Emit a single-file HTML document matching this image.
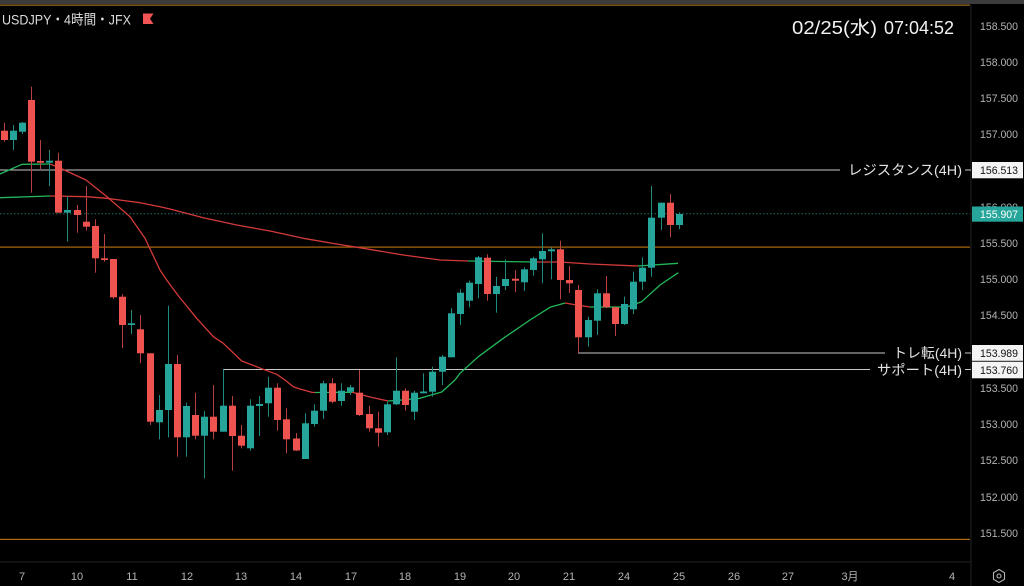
<!DOCTYPE html>
<html><head><meta charset="utf-8"><style>
html,body{margin:0;padding:0;background:#000;width:1024px;height:586px;overflow:hidden}
svg{display:block}
.r{fill:#ef5350}.g{fill:#26a69a}
.rw{fill:#b8403e}.gw{fill:#1f8a80}
text{font-family:"Liberation Sans","Noto Sans CJK JP",sans-serif}
.ax{font-size:11px;fill:#b4b4b4}
.bx{font-size:11px;fill:#111}
.jl{font-size:14px;fill:#e2e2e2}
</style></head><body>
<svg width="1024" height="586" viewBox="0 0 1024 586" xmlns="http://www.w3.org/2000/svg">
<rect x="0" y="0" width="1024" height="586" fill="#000"/>
<rect x="0" y="0" width="1024" height="4" fill="#3c3c3c"/>
<rect x="0" y="4.5" width="970" height="1.2" fill="#a8742e"/>
<!-- axis separators -->
<rect x="970.5" y="5" width="1" height="581" fill="#222"/>
<rect x="0" y="561.5" width="971" height="1" fill="#222"/>

<!-- horizontal lines -->
<rect x="0" y="246.5" width="970" height="1.2" fill="#b06a10"/>
<rect x="0" y="538.8" width="970" height="1.2" fill="#b06a10"/>
<line x1="0" y1="213.8" x2="970" y2="213.8" stroke="#1f6f68" stroke-width="1" stroke-dasharray="1.5 2"/>
<rect x="0" y="169.5" width="840" height="1" fill="#c8c8c8"/>
<rect x="965" y="169.5" width="6" height="1" fill="#c8c8c8"/>
<rect x="223" y="369" width="647" height="1" fill="#c8c8c8"/>
<rect x="965" y="369" width="6" height="1" fill="#c8c8c8"/>
<rect x="578" y="352.5" width="307" height="1" fill="#c8c8c8"/>
<rect x="965" y="352.5" width="6" height="1" fill="#c8c8c8"/>

<!-- MAs -->
<g fill="none" stroke-width="1.3" stroke-linejoin="round">
<polyline stroke="#22b85a" points="0,197.7 50,196"/>
<polyline stroke="#d43a3a" points="50,196 86.7,196.7 106.7,198.3 140,202.7 160,206.7 170,209 203.3,217.7 236.7,225 270,231 303.3,238.3 336.7,244 363.3,248.3 403.3,255 440,260 468,261"/>
<polyline stroke="#22b85a" points="468,261 535,262"/>
<polyline stroke="#d43a3a" points="535,262 560,262 590,264 638,266"/>
<polyline stroke="#22b85a" points="638,266 678,263.3"/>
<polyline stroke="#22b85a" points="0,174 22,164.3 50,164"/>
<polyline stroke="#d43a3a" points="50,164 60,168 86,180 107,196.7 130,216.7 145,238.3 160,270 166.7,280 177.7,295 196.7,318.3 213.3,336.7 223.3,343.3 241.7,361 263.3,369.3 276.7,374.3 285,380 293.3,386.7 300,389 311.7,392.3 315,392.5"/>
<polyline stroke="#22b85a" points="315,392.5 352,392.3"/>
<polyline stroke="#d43a3a" points="352,392.3 370,397 388,401"/>
<polyline stroke="#22b85a" points="388,401 401.7,400 420,398.3 425,396.7 441.7,392 455,380 460,373.3 478.3,356.7 503.3,338.3 530,320 550,307.3 565,303"/>
<polyline stroke="#d43a3a" points="565,303 576.7,305 590,307"/>
<polyline stroke="#22b85a" points="590,307 626.7,307 641.7,301.7 660,285 678.3,272.7"/>
</g>

<!-- candles -->
<rect class="rw" x="4" y="122.7" width="1" height="19"/><rect class="r" x="1" y="130.7" width="7" height="9.3"/>
<rect class="gw" x="13" y="125" width="1" height="25"/><rect class="g" x="10" y="130.7" width="7" height="9.3"/>
<rect class="gw" x="22" y="122" width="1" height="12"/><rect class="g" x="19" y="122.7" width="7" height="9"/>
<rect class="rw" x="31" y="86.7" width="1" height="106"/><rect class="r" x="28" y="100" width="7" height="61.7"/>
<rect class="rw" x="40" y="140" width="1" height="29"/><rect class="r" x="37" y="161" width="7" height="1.7"/>
<rect class="gw" x="49" y="150" width="1" height="36"/><rect class="g" x="46" y="160.7" width="7" height="2"/>
<rect class="rw" x="58" y="152.7" width="1" height="60"/><rect class="r" x="55" y="160.7" width="7" height="52"/>
<rect class="gw" x="67" y="196" width="1" height="45.7"/><rect class="g" x="64" y="210" width="7" height="2.7"/>
<rect class="rw" x="77" y="205" width="1" height="27.7"/><rect class="r" x="74" y="210" width="7" height="5"/>
<rect class="rw" x="86" y="186" width="1" height="44.7"/><rect class="r" x="83" y="221.7" width="7" height="5"/>
<rect class="rw" x="95" y="219.3" width="1" height="53.4"/><rect class="r" x="92" y="226" width="7" height="32.3"/>
<rect class="rw" x="104" y="234" width="1" height="27.7"/><rect class="r" x="101" y="258.3" width="7" height="1.7"/>
<rect class="rw" x="113" y="259" width="1" height="40"/><rect class="r" x="110" y="259" width="7" height="38.3"/>
<rect class="rw" x="122" y="294" width="1" height="54"/><rect class="r" x="119" y="296.7" width="7" height="28.3"/>
<rect class="gw" x="131" y="310" width="1" height="24"/><rect class="g" x="128" y="323.3" width="7" height="1.7"/>
<rect class="rw" x="140" y="315" width="1" height="48.3"/><rect class="r" x="137" y="329.3" width="7" height="24"/>
<rect class="rw" x="150" y="353.3" width="1" height="71.7"/><rect class="r" x="147" y="353.3" width="7" height="68.4"/>
<rect class="gw" x="159" y="395" width="1" height="44.3"/><rect class="g" x="156" y="410" width="7" height="12.3"/>
<rect class="gw" x="168" y="305.7" width="1" height="131.6"/><rect class="g" x="165" y="364" width="7" height="46"/>
<rect class="rw" x="177" y="355" width="1" height="101.7"/><rect class="r" x="174" y="364" width="7" height="73.3"/>
<rect class="gw" x="186" y="402.7" width="1" height="54"/><rect class="g" x="183" y="406" width="7" height="31.3"/>
<rect class="rw" x="195" y="392.7" width="1" height="46.6"/><rect class="r" x="192" y="415" width="7" height="20.7"/>
<rect class="gw" x="204" y="411" width="1" height="67.3"/><rect class="g" x="201" y="416.7" width="7" height="19"/>
<rect class="rw" x="213" y="385" width="1" height="54.3"/><rect class="r" x="210" y="416.7" width="7" height="15"/>
<rect class="gw" x="223" y="369.3" width="1" height="62.4"/><rect class="g" x="220" y="405.7" width="7" height="26"/>
<rect class="rw" x="232" y="396" width="1" height="74.7"/><rect class="r" x="229" y="405.7" width="7" height="30.3"/>
<rect class="rw" x="241" y="425" width="1" height="23.3"/><rect class="r" x="238" y="435.7" width="7" height="10"/>
<rect class="gw" x="250" y="399.3" width="1" height="51.4"/><rect class="g" x="247" y="405.7" width="7" height="42.6"/>
<rect class="gw" x="259" y="396" width="1" height="40"/><rect class="g" x="256" y="404" width="7" height="2"/>
<rect class="gw" x="268" y="376.7" width="1" height="40"/><rect class="g" x="265" y="387.7" width="7" height="15.6"/>
<rect class="rw" x="277" y="383.3" width="1" height="47.4"/><rect class="r" x="274" y="387.7" width="7" height="32.3"/>
<rect class="rw" x="286" y="408.3" width="1" height="45"/><rect class="r" x="283" y="419.3" width="7" height="20"/>
<rect class="rw" x="296" y="433" width="1" height="18"/><rect class="r" x="293" y="438.5" width="7" height="12"/>
<rect class="gw" x="305" y="413.3" width="1" height="45.7"/><rect class="g" x="302" y="423.3" width="7" height="35.7"/>
<rect class="gw" x="314" y="404.3" width="1" height="22.4"/><rect class="g" x="311" y="410.7" width="7" height="13.3"/>
<rect class="gw" x="323" y="380.7" width="1" height="38.3"/><rect class="g" x="320" y="383.3" width="7" height="27.4"/>
<rect class="rw" x="332" y="378.3" width="1" height="25"/><rect class="r" x="329" y="383.3" width="7" height="18.4"/>
<rect class="gw" x="341" y="383.3" width="1" height="22.4"/><rect class="g" x="338" y="390.7" width="7" height="10.3"/>
<rect class="gw" x="350" y="385" width="1" height="10"/><rect class="g" x="347" y="387.3" width="7" height="4.4"/>
<rect class="rw" x="359" y="370" width="1" height="46"/><rect class="r" x="356" y="392.7" width="7" height="22.3"/>
<rect class="rw" x="369" y="405.7" width="1" height="26"/><rect class="r" x="366" y="414" width="7" height="14.3"/>
<rect class="rw" x="378" y="411.7" width="1" height="35"/><rect class="r" x="375" y="428.3" width="7" height="4.4"/>
<rect class="gw" x="387" y="401.7" width="1" height="33.3"/><rect class="g" x="384" y="404.3" width="7" height="28"/>
<rect class="gw" x="396" y="357.3" width="1" height="47.7"/><rect class="g" x="393" y="390.7" width="7" height="13.6"/>
<rect class="rw" x="405" y="388.3" width="1" height="22.4"/><rect class="r" x="402" y="390.7" width="7" height="14.3"/>
<rect class="gw" x="414" y="390.7" width="1" height="29.3"/><rect class="g" x="411" y="392.7" width="7" height="19"/>
<rect class="gw" x="423" y="373.3" width="1" height="20"/><rect class="g" x="420" y="391.5" width="7" height="1.8"/>
<rect class="gw" x="432" y="366.7" width="1" height="30"/><rect class="g" x="429" y="371.7" width="7" height="20"/>
<rect class="gw" x="442" y="355" width="1" height="30"/><rect class="g" x="439" y="356.7" width="7" height="15"/>
<rect class="gw" x="451" y="308.3" width="1" height="49"/><rect class="g" x="448" y="313.3" width="7" height="44"/>
<rect class="gw" x="460" y="289.3" width="1" height="35.7"/><rect class="g" x="457" y="292.7" width="7" height="21.3"/>
<rect class="gw" x="469" y="280.7" width="1" height="26.6"/><rect class="g" x="466" y="282.7" width="7" height="18"/>
<rect class="gw" x="478" y="256" width="1" height="42.3"/><rect class="g" x="475" y="257.3" width="7" height="26.7"/>
<rect class="rw" x="487" y="254.3" width="1" height="46.4"/><rect class="r" x="484" y="257.7" width="7" height="36.3"/>
<rect class="gw" x="496" y="276.7" width="1" height="36"/><rect class="g" x="493" y="286" width="7" height="8"/>
<rect class="gw" x="505" y="259.3" width="1" height="30.7"/><rect class="g" x="502" y="279" width="7" height="7"/>
<rect class="rw" x="515" y="270" width="1" height="22.3"/><rect class="r" x="512" y="278.7" width="7" height="2"/>
<rect class="gw" x="524" y="267.3" width="1" height="23.7"/><rect class="g" x="521" y="269.3" width="7" height="13"/>
<rect class="gw" x="533" y="256.7" width="1" height="19"/><rect class="g" x="530" y="258.3" width="7" height="11.7"/>
<rect class="gw" x="542" y="233.3" width="1" height="50"/><rect class="g" x="539" y="251" width="7" height="8.3"/>
<rect class="gw" x="551" y="247.3" width="1" height="32"/><rect class="g" x="548" y="249.3" width="7" height="2"/>
<rect class="rw" x="560" y="240.7" width="1" height="58.6"/><rect class="r" x="557" y="249.3" width="7" height="30.7"/>
<rect class="rw" x="569" y="266" width="1" height="27"/><rect class="r" x="566" y="280" width="7" height="3.3"/>
<rect class="rw" x="578" y="285" width="1" height="68"/><rect class="r" x="575" y="290" width="7" height="47.3"/>
<rect class="gw" x="588" y="316.7" width="1" height="30"/><rect class="g" x="585" y="320" width="7" height="17.3"/>
<rect class="gw" x="597" y="289.3" width="1" height="45.7"/><rect class="g" x="594" y="293.3" width="7" height="27.4"/>
<rect class="rw" x="606" y="276" width="1" height="32.3"/><rect class="r" x="603" y="293.3" width="7" height="14"/>
<rect class="rw" x="615" y="306.7" width="1" height="29.3"/><rect class="r" x="612" y="307.3" width="7" height="16.7"/>
<rect class="gw" x="624" y="296.7" width="1" height="28.3"/><rect class="g" x="621" y="304" width="7" height="20"/>
<rect class="gw" x="633" y="271.7" width="1" height="42.3"/><rect class="g" x="630" y="281.7" width="7" height="27.6"/>
<rect class="gw" x="642" y="257.3" width="1" height="32.7"/><rect class="g" x="639" y="267.7" width="7" height="14"/>
<rect class="gw" x="651" y="186" width="1" height="90.7"/><rect class="g" x="648" y="217.7" width="7" height="50"/>
<rect class="gw" x="661" y="202.7" width="1" height="27.3"/><rect class="g" x="658" y="202.7" width="7" height="15"/>
<rect class="rw" x="670" y="194" width="1" height="43.3"/><rect class="r" x="667" y="202.7" width="7" height="22.3"/>
<rect class="gw" x="679" y="212.3" width="1" height="17"/><rect class="g" x="676" y="214" width="7" height="11"/>

<!-- line labels -->
<text class="jl" x="848" y="175" textLength="114" lengthAdjust="spacingAndGlyphs">レジスタンス(4H)</text>
<text class="jl" x="893" y="358" textLength="69" lengthAdjust="spacingAndGlyphs">トレ転(4H)</text>
<text class="jl" x="877" y="375" textLength="85" lengthAdjust="spacingAndGlyphs">サポート(4H)</text>

<!-- header -->
<text x="2" y="24.5" font-size="14" fill="#dcdcdc" textLength="129" lengthAdjust="spacingAndGlyphs">USDJPY・4時間・JFX</text>
<path d="M143,13.5 H153.5 L150,18.7 L153.5,24 H143 Z" fill="#f05454"/>
<text x="792" y="34" font-size="18" fill="#f2f2f2" textLength="85" lengthAdjust="spacingAndGlyphs">02/25(水)</text>
<text x="884" y="34" font-size="18" fill="#f2f2f2" textLength="70" lengthAdjust="spacingAndGlyphs">07:04:52</text>

<!-- right axis -->
<g class="ax">
<text x="980" y="30" textLength="38" lengthAdjust="spacingAndGlyphs">158.500</text>
<text x="980" y="66" textLength="38" lengthAdjust="spacingAndGlyphs">158.000</text>
<text x="980" y="102" textLength="38" lengthAdjust="spacingAndGlyphs">157.500</text>
<text x="980" y="138" textLength="38" lengthAdjust="spacingAndGlyphs">157.000</text>
<text x="980" y="211" textLength="38" lengthAdjust="spacingAndGlyphs">156.000</text>
<text x="980" y="247" textLength="38" lengthAdjust="spacingAndGlyphs">155.500</text>
<text x="980" y="283" textLength="38" lengthAdjust="spacingAndGlyphs">155.000</text>
<text x="980" y="319" textLength="38" lengthAdjust="spacingAndGlyphs">154.500</text>
<text x="980" y="392" textLength="38" lengthAdjust="spacingAndGlyphs">153.500</text>
<text x="980" y="428" textLength="38" lengthAdjust="spacingAndGlyphs">153.000</text>
<text x="980" y="464" textLength="38" lengthAdjust="spacingAndGlyphs">152.500</text>
<text x="980" y="501" textLength="38" lengthAdjust="spacingAndGlyphs">152.000</text>
<text x="980" y="537" textLength="38" lengthAdjust="spacingAndGlyphs">151.500</text>
</g>
<rect x="972" y="162" width="51" height="16.3" fill="#f4f4f4"/>
<text class="bx" x="980" y="174" textLength="38" lengthAdjust="spacingAndGlyphs">156.513</text>
<rect x="972" y="206.5" width="51" height="15.2" fill="#26a69a"/>
<text class="bx" x="980" y="218" fill="#fff" style="fill:#fff" textLength="38" lengthAdjust="spacingAndGlyphs">155.907</text>
<rect x="972" y="345" width="51" height="15.8" fill="#f4f4f4"/>
<text class="bx" x="980" y="357" textLength="38" lengthAdjust="spacingAndGlyphs">153.989</text>
<rect x="972" y="361.7" width="51" height="16.6" fill="#f4f4f4"/>
<text class="bx" x="980" y="374" textLength="38" lengthAdjust="spacingAndGlyphs">153.760</text>

<!-- bottom axis -->
<g class="ax" text-anchor="middle">
<text x="22" y="580">7</text>
<text x="77" y="580">10</text>
<text x="132" y="580">11</text>
<text x="187" y="580">12</text>
<text x="241" y="580">13</text>
<text x="296" y="580">14</text>
<text x="351" y="580">17</text>
<text x="405" y="580">18</text>
<text x="460" y="580">19</text>
<text x="514" y="580">20</text>
<text x="569" y="580">21</text>
<text x="624" y="580">24</text>
<text x="679" y="580">25</text>
<text x="734" y="580">26</text>
<text x="788" y="580">27</text>
<text x="850" y="580">3月</text>
<text x="952" y="580">4</text>
</g>
<path d="M999,569.5 L1004.5,572.7 L1004.5,579.3 L999,582.5 L993.5,579.3 L993.5,572.7 Z" fill="none" stroke="#b4b4b4" stroke-width="1.1"/>
<circle cx="999" cy="576" r="2" fill="none" stroke="#b4b4b4" stroke-width="1.1"/>
</svg>
</body></html>
